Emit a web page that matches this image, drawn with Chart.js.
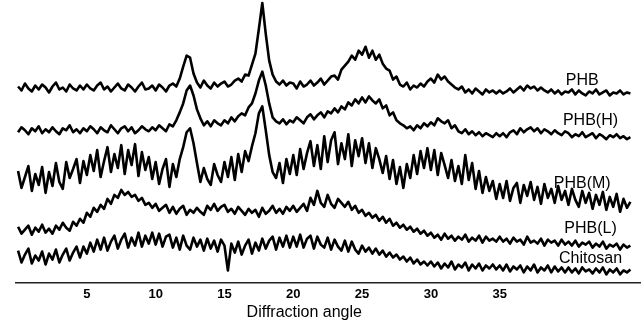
<!DOCTYPE html>
<html>
<head>
<meta charset="utf-8">
<script src="https://cdn.jsdelivr.net/npm/chart.js@4.4.1/dist/chart.umd.min.js"></script>
<style>
  body { margin: 0; background: #fff; }
  #wrap { width: 641px; height: 327px; position: relative; }
</style>
</head>
<body>
<div id="wrap"><canvas id="xrd"></canvas></div>
<script>
// ---------------------------------------------------------------- DATA
// one reading every 0.25 deg, from 0 to 44.5 deg (2 theta)
const startAngle = 0;
const stepAngle = 0.25;
const tickValues = [5, 10, 15, 20, 25, 30, 35];
const axisTitle = "Diffraction angle";
const seriesNames = ["PHB", "PHB(H)", "PHB(M)", "PHB(L)", "Chitosan"];

// intensities (a.u., traces already shifted for stacking)
const phb = [
  197,193,200,195,192,198,194,199,196,191,197,201,194,196,192,199,195,193,198,194,
  199,195,193,198,201,194,197,192,196,200,195,193,199,196,192,197,201,194,195,198,
  193,199,196,192,198,200,197,205,217,228,226,210,201,196,203,198,195,201,197,200,
  202,197,199,203,205,202,209,208,219,230,255,281,250,223,209,202,199,203,198,201,
  200,195,202,197,199,203,198,201,205,199,203,207,208,204,214,218,222,228,224,233,
  229,237,226,233,224,229,220,215,213,204,207,199,197,201,194,198,196,200,197,202,
  205,201,209,204,207,202,199,196,194,197,191,194,190,195,192,189,194,191,193,190,
  193,190,192,195,191,194,197,193,198,195,197,193,196,193,191,194,190,193,189,192,
  191,194,189,193,190,188,192,190,194,189,191,193,188,191,190,193,189,191,190
];
const phbH = [
  151,156,153,149,155,152,157,150,154,151,156,152,149,155,153,158,151,154,150,155,
  152,157,154,150,156,153,151,158,154,150,155,157,152,156,150,153,157,154,152,156,
  153,158,155,152,159,157,163,171,180,193,198,188,174,165,158,162,157,163,160,158,
  163,160,166,162,167,170,168,176,180,190,203,212,198,180,166,162,160,164,159,163,
  161,166,163,160,166,169,164,168,171,166,172,170,175,171,177,174,181,178,184,180,
  186,181,187,183,180,184,175,178,168,171,163,160,158,155,157,153,158,155,160,157,
  161,158,165,162,160,163,155,158,152,150,154,149,152,148,151,147,150,148,146,150,
  147,150,146,151,153,149,155,151,154,156,152,155,150,154,152,149,153,150,148,152,
  150,146,149,147,151,146,148,150,145,149,147,144,148,146,149,145,147,144,146
];
const phbM = [
  112,95,106,117,92,109,98,116,90,111,97,120,101,94,121,105,114,124,100,122,
  108,128,112,133,106,122,136,111,129,115,138,109,133,118,139,107,131,113,126,104,
  121,99,114,124,96,119,106,124,136,151,155,140,120,101,115,104,98,119,108,101,
  121,106,126,103,129,111,132,122,137,150,170,177,153,128,111,105,120,100,124,109,
  128,108,134,114,130,142,117,138,114,147,121,143,151,119,140,124,149,117,143,127,
  145,120,140,115,135,124,110,127,104,123,99,116,95,119,105,128,109,132,115,135,
  113,133,108,130,118,105,123,102,117,99,128,103,120,94,112,90,106,92,102,84,
  99,85,102,82,95,100,80,98,87,101,83,96,79,99,85,94,80,97,83,92,
  78,94,83,76,92,80,90,74,88,78,91,73,86,76,89,71,84,75,81
];
const phbL = [
  56,49,53,57,48,55,51,58,50,54,49,57,53,60,55,52,61,57,64,60,
  70,66,75,71,78,74,84,79,88,85,93,88,91,86,88,82,85,78,80,75,
  79,72,75,78,70,76,69,74,77,68,73,70,75,71,68,77,73,79,72,76,
  78,71,74,69,76,72,68,74,70,73,66,75,69,72,77,70,74,69,76,72,
  77,71,75,79,72,85,78,92,80,76,88,79,75,84,80,76,81,73,77,70,
  73,67,70,65,68,62,66,60,64,57,60,55,58,53,56,51,54,49,52,47,
  50,45,48,43,49,44,47,42,46,43,48,41,45,42,47,40,46,42,44,41,
  46,41,44,39,45,41,43,38,46,40,42,39,44,37,43,40,42,37,43,38,
  41,37,42,36,40,38,41,35,39,36,41,34,38,36,39,33,38,35,37
];
const chitosan = [
  32,20,28,34,19,27,22,31,18,29,23,33,20,28,34,22,30,36,25,36,
  29,40,31,43,33,45,32,41,47,34,43,49,35,45,37,50,36,47,39,50,
  38,49,36,46,48,35,45,33,47,37,33,45,36,43,32,44,34,42,31,43,
  37,12,39,30,41,28,37,43,29,40,32,44,34,42,46,33,45,36,47,35,
  46,36,48,35,44,47,34,46,38,35,45,33,43,36,32,42,31,41,33,29,
  37,31,35,29,34,28,32,26,30,25,28,23,26,21,25,19,23,18,21,17,
  21,16,20,14,19,15,21,13,18,15,20,12,18,14,19,12,17,14,18,13,
  17,12,18,11,16,13,17,10,16,12,18,10,15,12,17,10,16,11,15,10,
  15,10,14,9,15,11,13,9,14,10,15,8,13,10,14,8,12,10,13
];

// where each trace name is written (angle, intensity)
const labelAngle = [41.0, 41.6, 41.0, 41.6, 41.6];
const labelLevel = [203, 163, 99, 54, 24];
const titleAngle = 20.8;

// ---------------------------------------------------------------- CHART
const FONT = "'Liberation Sans', Arial, sans-serif";
const angles = phb.map((_, i) => startAngle + i * stepAngle);
const allSeries = [phb, phbH, phbM, phbL, chitosan];

const datasets = allSeries.map((values, k) => ({
  label: seriesNames[k],
  data: values.map((v, i) => ({ x: angles[i], y: v })),
  borderColor: "#000",
  borderWidth: 2.6,
  borderJoinStyle: "round",
  pointRadius: 0,
  tension: 0,
}));

//     names next to the traces + axis title
const traceLabels = {
  id: "traceLabels",
  afterDraw(chart) {
    const { ctx, chartArea } = chart;
    const { x, y } = chart.scales;
    ctx.save();
    ctx.fillStyle = "#000";
    ctx.font = "16px " + FONT;
    ctx.textAlign = "center";
    ctx.textBaseline = "middle";
    seriesNames.forEach((name, k) => {
      ctx.fillText(name, x.getPixelForValue(labelAngle[k]), y.getPixelForValue(labelLevel[k]));
    });
    ctx.fillText(axisTitle, x.getPixelForValue(titleAngle), chartArea.bottom + 30);
    ctx.restore();
  },
};

new Chart(document.getElementById("xrd"), {
  type: "line",
  data: { datasets },
  plugins: [traceLabels],
  options: {
    animation: false,
    responsive: true,
    maintainAspectRatio: false,
    layout: { padding: { left: 16, right: 0, top: 0, bottom: 21 } },
    plugins: { legend: { display: false }, tooltip: { enabled: false } },
    scales: {
      x: {
        type: "linear",
        min: -0.15,
        max: 45.27,
        afterBuildTicks: (scale) => {
          scale.ticks = tickValues.map((v) => ({ value: v }));
        },
        ticks: {
          color: "#000",
          padding: 4,
          maxRotation: 0,
          autoSkip: false,
          font: { size: 13, weight: "bold", family: FONT },
        },
        grid: { display: false, drawTicks: false },
        border: { display: true, color: "#222", width: 1.5 },
      },
      y: { display: false, min: 0, max: 284 },
    },
  },
});
</script>
</body>
</html>
